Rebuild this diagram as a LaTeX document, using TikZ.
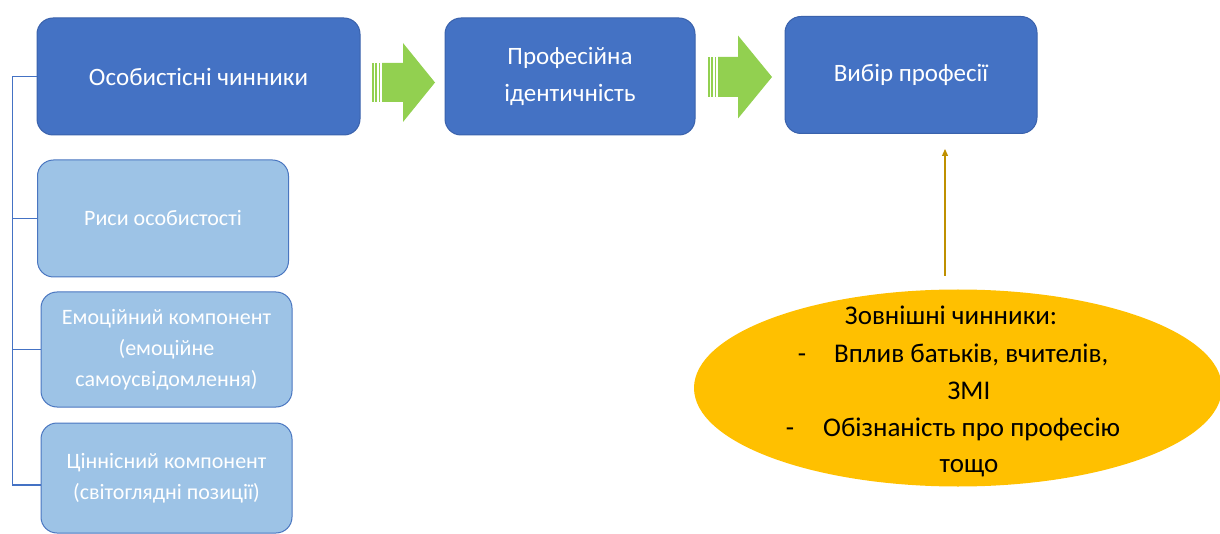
\documentclass[tikz,border=0pt]{standalone}
\usepackage{fontspec}
\setmainfont{Carlito}
\usetikzlibrary{shapes.geometric,arrows.meta}
\definecolor{darkbox}{HTML}{4472C4}
\definecolor{darkedge}{HTML}{3A62AC}
\definecolor{lightbox}{HTML}{9DC3E6}
\definecolor{lightedge}{HTML}{4A76C0}
\definecolor{arrowgreen}{HTML}{92D050}
\definecolor{ovalfill}{HTML}{FFC000}
\definecolor{goldline}{HTML}{BF9000}
\tikzset{
  mainbox/.style={draw=darkedge, line width=1pt, fill=darkbox, rounded corners=16pt,
    text=white, align=center, inner sep=0pt,
    font=\fontsize{25}{37}\selectfont},
  subbox/.style={draw=lightedge, line width=1pt, fill=lightbox, rounded corners=16pt,
    text=white, align=center, inner sep=0pt, minimum width=251pt,
    font=\fontsize{22}{31}\selectfont},
  link/.style={draw=darkbox, line width=1.5pt},
  ovaltext/.style={font=\fontsize{27}{30}\selectfont, text=black, inner sep=0pt, anchor=base},
}
\begin{document}
\begin{tikzpicture}[x=1pt,y=-1pt]
\useasboundingbox (0,0) rectangle (1220,534);
% main boxes
\node[mainbox, minimum width=323pt, minimum height=117pt] (pers) at (198.5,76.5) {Особистісні чинники};
\node[mainbox, minimum width=250pt, minimum height=117pt] (ident) at (570,76.5) {Професійна\\ідентичність};
\node[mainbox, minimum width=252pt, minimum height=117pt] (choice) at (911,75) {Вибір професії};
% sub boxes
\node[subbox, minimum height=117pt] (traits) at (163,218.5) {Риси особистості};
\node[subbox, minimum height=115pt] (emo) at (166.5,349.5) {Емоційний компонент\\(емоційне\\самоусвідомлення)};
\node[subbox, minimum height=110pt] (value) at (166.5,478) {Ціннісний компонент\\(світоглядні позиції)};
% left connector
\coordinate (spine) at (12.5,76.5);
\draw[link] (pers.west) -- (spine) |- ([yshift=-7pt]value.west);
\draw[link] (spine |- traits.west) -- (traits.west);
\draw[link] (spine |- emo.west) -- (emo.west);
% green block arrows
\foreach \xs/\yc/\hh/\bh/\hx/\tx in {372/82.5/39.5/19.5/403/435, 708/77/41.5/20/738/772}{
  \fill[arrowgreen] (\xs,\yc-\bh) rectangle ++(1.6,2*\bh);
  \fill[arrowgreen] (\xs+3.2,\yc-\bh) rectangle ++(1.8,2*\bh);
  \fill[arrowgreen] (\xs+6.6,\yc-\bh) rectangle ++(1.8,2*\bh);
  \fill[arrowgreen] (\xs+10,\yc-\bh) -- (\hx,\yc-\bh) -- (\hx,\yc-\hh) -- (\tx,\yc)
     -- (\hx,\yc+\hh) -- (\hx,\yc+\bh) -- (\xs+10,\yc+\bh) -- cycle;
}
% external factors oval
\node[ellipse, fill=ovalfill, minimum width=528pt, minimum height=197pt, inner sep=0pt] (ext) at (958,388) {};
\node[ovaltext] (l1) at (951,325) {Зовнішні чинники:};
\node[ovaltext] (d1) at (802,362) {-};
\node[ovaltext, anchor=base west] (l2) at (834,362) {Вплив батьків, вчителів,};
\node[ovaltext] (l3) at (969,399) {ЗМІ};
\node[ovaltext] (d2) at (790,436) {-};
\node[ovaltext, anchor=base west] (l4) at (823,436) {Обізнаність про професію};
\node[ovaltext] (l5) at (969,472) {тощо};
\coordinate (arrstart) at (945,276);
\draw[goldline, line width=1.3pt, -{Triangle[length=7pt,width=6pt]}] (arrstart) -- ([yshift=-15pt]choice.south -| arrstart);
\end{tikzpicture}
\end{document}
